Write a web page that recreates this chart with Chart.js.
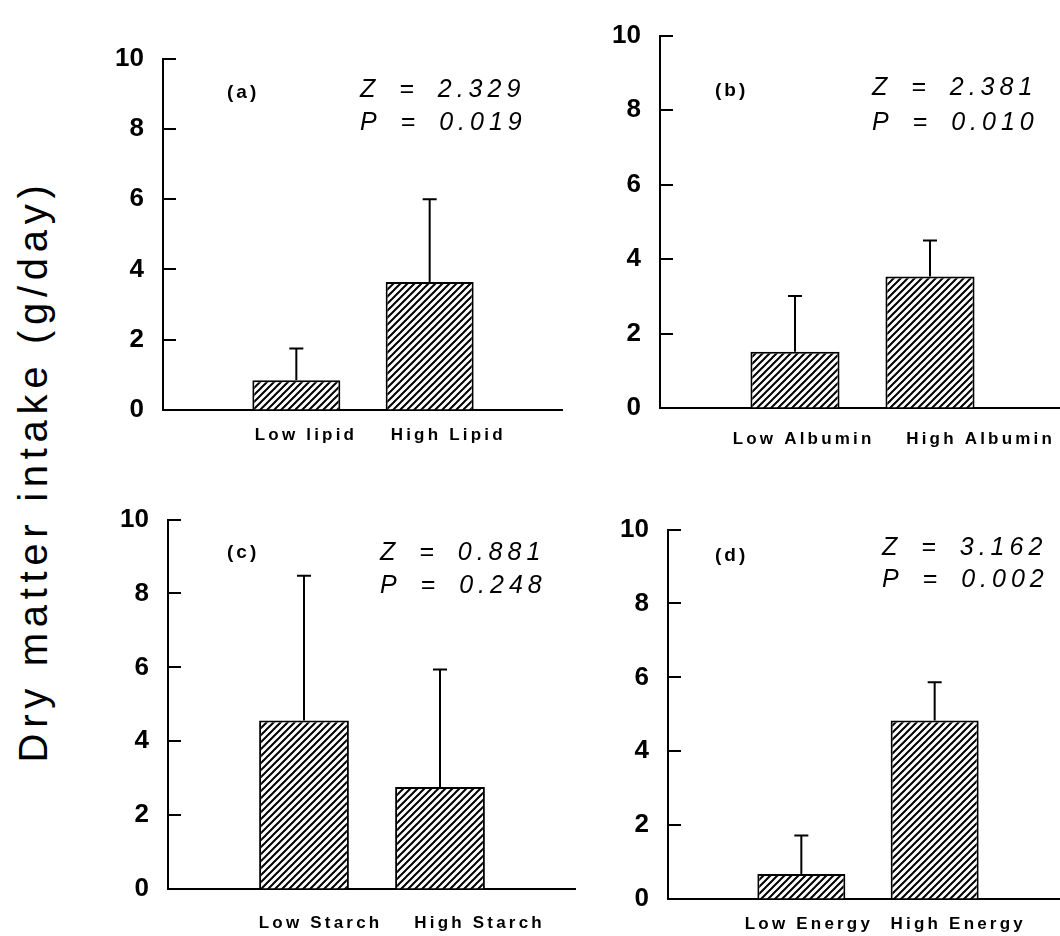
<!DOCTYPE html>
<html><head><meta charset="utf-8">
<script src="https://cdn.jsdelivr.net/npm/chart.js@4.4.1/dist/chart.umd.min.js"></script>
<style>
html,body{margin:0;padding:0;background:#fff;width:1060px;height:936px;overflow:hidden;position:relative}
canvas{position:absolute}
#ytitle{position:absolute;width:700px;height:40px;line-height:40px;left:-317px;top:451px;text-align:center;
  font-family:"Liberation Sans",Arial,sans-serif;font-size:40px;color:#000;white-space:nowrap;transform:rotate(-90deg);}
</style></head><body>
<div id="ytitle">Dry matter intake (g/day)</div>
<canvas id="pa"></canvas><canvas id="pb"></canvas><canvas id="pc"></canvas><canvas id="pd"></canvas>
<script>
// ---------- data ----------
const categoriesA = ['Low lipid', 'High Lipid'];
const meansA = [0.85, 3.64];
const errorsA = [0.90, 2.36];

const categoriesB = ['Low Albumin', 'High Albumin'];
const meansB = [1.51, 3.53];
const errorsB = [1.50, 0.97];

const categoriesC = ['Low Starch', 'High Starch'];
const meansC = [4.56, 2.76];
const errorsC = [3.92, 3.18];

const categoriesD = ['Low Energy', 'High Energy'];
const meansD = [0.68, 4.83];
const errorsD = [1.04, 1.04];

const panelTags = ['(a)', '(b)', '(c)', '(d)'];
const zValues = ['2.329', '2.381', '0.881', '3.162'];
const pValues = ['0.019', '0.010', '0.248', '0.002'];
const yTicks = [0, 2, 4, 6, 8, 10];
const yTitle = 'Dry matter intake (g/day)';

// ---------- layout / style ----------
const SANS = '"Liberation Sans", Arial, sans-serif';
const YW = 70, XH = 45, PT = 24;
const panels = [
  {id:'pa', cats:categoriesA, means:meansA, errs:errorsA, area:{l:163,t:48,r:563,b:410}, tag:[64,32], stat:[197,29,62], lblShift:[8,17], lblTop:18},
  {id:'pb', cats:categoriesB, means:meansB, errs:errorsB, area:{l:660,t:25,r:1065,b:408}, tag:[55,53], stat:[212,50,85], lblShift:[7,49], lblTop:24},
  {id:'pc', cats:categoriesC, means:meansC, errs:errorsC, area:{l:168,t:509,r:576,b:889}, tag:[59,31], stat:[212,31,64], lblShift:[15,38], lblTop:27},
  {id:'pd', cats:categoriesD, means:meansD, errs:errorsD, area:{l:668,t:519,r:1068,b:899}, tag:[47,24], stat:[214,16,48], lblShift:[6,22], lblTop:18}
];

// y title letter spacing to fit reference length
(function(){
  const el = document.getElementById('ytitle');
  const c = document.createElement('canvas').getContext('2d');
  c.font = '40px ' + SANS;
  const w = c.measureText(yTitle).width;
  el.style.letterSpacing = ((583 - w) / yTitle.length).toFixed(2) + 'px';
})();

function makeHatch(){
  const s = 7;
  const t = document.createElement('canvas');
  t.width = s; t.height = s;
  const g = t.getContext('2d');
  g.fillStyle = '#fff'; g.fillRect(0,0,s,s);
  g.strokeStyle = '#000'; g.lineWidth = 2;
  g.beginPath();
  g.moveTo(0, s); g.lineTo(s, 0);
  g.moveTo(-2, 2); g.lineTo(2, -2);
  g.moveTo(s-2, s+2); g.lineTo(s+2, s-2);
  g.stroke();
  return g.createPattern(t, 'repeat');
}

function makePlugin(p, idx){
  return {
    id: 'deco' + idx,
    afterDatasetsDraw(chart){
      const ctx = chart.ctx;
      const ys = chart.scales.y;
      const meta = chart.getDatasetMeta(0);
      const errs = chart.data.datasets[0].errors;
      ctx.save();
      ctx.strokeStyle = '#000'; ctx.lineWidth = 2;
      meta.data.forEach((bar, i) => {
        const e = errs[i];
        const v = chart.data.datasets[0].data[i];
        if (e == null || v == null) return;
        const yTop = ys.getPixelForValue(v + e);
        ctx.beginPath();
        ctx.moveTo(bar.x, bar.y);
        ctx.lineTo(bar.x, yTop);
        ctx.moveTo(bar.x - 7, yTop);
        ctx.lineTo(bar.x + 7, yTop);
        ctx.stroke();
      });
      ctx.restore();
    },
    afterDraw(chart){
      const ctx = chart.ctx;
      const ca = chart.chartArea;
      const ys = chart.scales.y, xs = chart.scales.x;
      ctx.save();
      // inward tick marks
      ctx.strokeStyle = '#000'; ctx.lineWidth = 2;
      yTicks.forEach(v => {
        if (v === 0) return;
        const y = Math.round(ys.getPixelForValue(v));
        ctx.beginPath(); ctx.moveTo(ca.left, y); ctx.lineTo(ca.left + 13, y); ctx.stroke();
      });
      ctx.fillStyle = '#000';
      // category labels
      ctx.font = 'bold 17px ' + SANS;
      ctx.letterSpacing = '3.2px';
      ctx.textAlign = 'center';
      ctx.textBaseline = 'alphabetic';
      p.cats.forEach((c, i) => {
        const x = xs.getPixelForValue(i + 1) + p.lblShift[i] + 1.6;
        ctx.fillText(c, x, ca.bottom + p.lblTop + 12);
      });
      // panel tag
      ctx.textAlign = 'left';
      ctx.font = 'bold 19px ' + SANS;
      ctx.letterSpacing = '3px';
      ctx.fillText(panelTags[idx], ca.left + p.tag[0], ca.top + p.tag[1] + 7);
      // statistics
      ctx.font = 'italic 25px ' + SANS;
      ctx.letterSpacing = '5px';
      try { ctx.wordSpacing = '7px'; } catch(e) {}
      ctx.fillText('Z = ' + zValues[idx], ca.left + p.stat[0], ca.top + p.stat[1] + 9);
      ctx.fillText('P = ' + pValues[idx], ca.left + p.stat[0], ca.top + p.stat[2] + 9);
      ctx.restore();
    }
  };
}

const hatch = makeHatch();

panels.forEach((p, idx) => {
  const cv = document.getElementById(p.id);
  const left = p.area.l - YW, top = p.area.t - PT;
  const w = p.area.r - left, h = p.area.b + XH - top;
  cv.width = w; cv.height = h;
  cv.style.left = left + 'px'; cv.style.top = top + 'px';
  cv.style.width = w + 'px'; cv.style.height = h + 'px';
  new Chart(cv, {
    type: 'bar',
    data: {
      labels: ['', ...p.cats, ''],
      datasets: [{
        data: [null, ...p.means, null],
        errors: [null, ...p.errs, null],
        backgroundColor: hatch,
        borderColor: '#000',
        borderWidth: 2,
        borderSkipped: 'start',
        barPercentage: 0.66,
        categoryPercentage: 1
      }]
    },
    options: {
      responsive: false,
      animation: false,
      events: [],
      devicePixelRatio: 1,
      layout: {padding: {top: PT, left: 0, right: 0, bottom: 0}},
      plugins: {legend: {display: false}, tooltip: {enabled: false}},
      scales: {
        x: {
          type: 'category', offset: false,
          grid: {display: true, drawOnChartArea: false, drawTicks: false},
          border: {display: true, color: '#000', width: 2},
          ticks: {display: false},
          afterFit(s){ s.height = XH; }
        },
        y: {
          min: 0, max: 10,
          afterBuildTicks(s){ s.ticks = yTicks.map(v => ({value: v})); },
          grid: {display: true, drawOnChartArea: false, drawTicks: false},
          border: {display: true, color: '#000', width: 2},
          ticks: {color: '#000', padding: 19, font: {family: SANS, size: 26, weight: 'bold'}},
          afterFit(s){ s.width = YW; }
        }
      }
    },
    plugins: [makePlugin(p, idx)]
  });
});
</script>
</body></html>
